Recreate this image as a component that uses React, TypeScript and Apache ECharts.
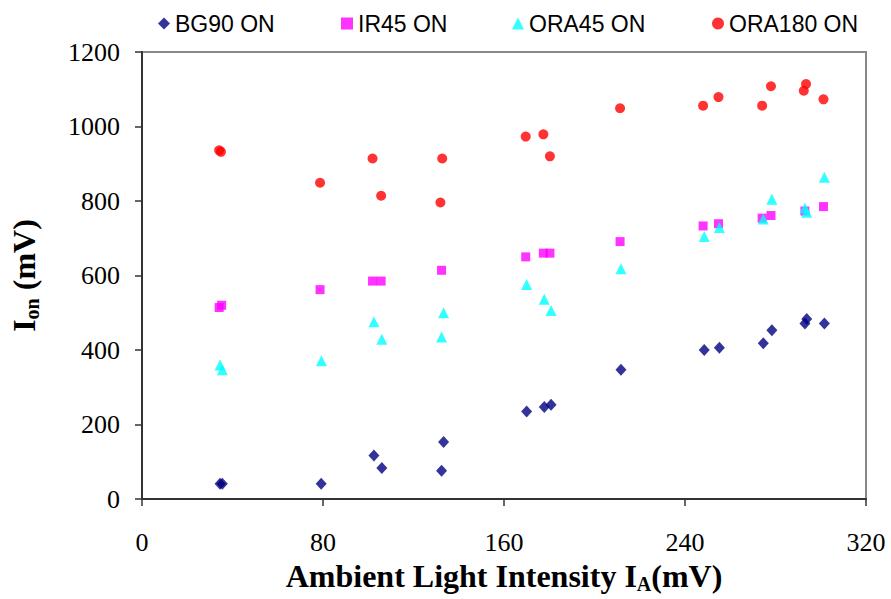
import React, { useEffect, useRef } from "react";
import * as echarts from "echarts";

const seriesNames = ["BG90 ON", "IR45 ON", "ORA45 ON", "ORA180 ON"];
const seriesColors = ["#000080", "#FF00FF", "#00FFFF", "#FF0000"];
const seriesSymbols = ["diamond", "rect", "triangle", "circle"];
const xTicks = [0, 80, 160, 240, 320];
const yTicks = [0, 200, 400, 600, 800, 1000, 1200];

const bg90X = [34.5, 35.5, 79.2, 102.5, 106, 132.4, 133.3, 170, 177.8, 180.8, 211.7, 248.5, 255.2, 274.6, 278.4, 293, 293.8, 301.6];
const bg90Y = [41, 41, 41, 117, 83, 76, 153, 235, 247, 253, 347, 400, 406, 418, 453, 471, 483, 471];

const ir45X = [34.1, 35.2, 78.7, 101.9, 105.7, 132.4, 169.6, 177.4, 180.3, 211.3, 248, 254.8, 274.1, 278, 293, 301.2];
const ir45Y = [514, 520, 562, 585, 585, 614, 650, 660, 660, 691, 733, 739, 754, 761, 773, 785];

const ora45X = [34.5, 35.5, 79.3, 102.5, 106, 132.4, 133.3, 170, 177.8, 180.8, 211.7, 248.5, 255.2, 274.6, 278.4, 293, 293.8, 301.6];
const ora45Y = [360, 347, 371, 476, 429, 435, 500, 576, 536, 506, 618, 705, 729, 752, 805, 781, 770, 864];

const ora180X = [34.1, 34.9, 78.7, 101.9, 105.7, 131.9, 132.7, 169.6, 177.4, 180.3, 211.3, 248, 254.8, 274.1, 278, 292.5, 293.5, 301.2];
const ora180Y = [936, 932, 849, 914, 814, 796, 914, 973, 979, 920, 1049, 1056, 1079, 1056, 1108, 1096, 1114, 1073];

const zip = (xs: number[], ys: number[]) => xs.map((x, i) => [x, ys[i]]);

export default function App() {
  const ref = useRef<HTMLDivElement>(null);
  useEffect(() => {
    if (!ref.current) return;
    const chart = echarts.init(ref.current, null, { renderer: "svg" });
    const serif = "'Liberation Serif', 'Times New Roman', serif";
    const sans = "'Liberation Sans', Arial, sans-serif";
    const titleRich = {
      b: { fontFamily: serif, fontSize: 32, fontWeight: "bold", color: "#000", lineHeight: 36 },
      s: { fontFamily: serif, fontSize: 20, fontWeight: "bold", color: "#000", lineHeight: 19, verticalAlign: "bottom" },
    };
    const legendLefts = [153, 336, 507, 707];
    chart.setOption({
      animation: false,
      backgroundColor: "#ffffff",
      legend: seriesNames.map((name, i) => ({
        top: 7,
        left: legendLefts[i],
        itemWidth: 12,
        itemHeight: 12,
        itemGap: 10,
        textStyle: { fontFamily: sans, fontSize: 23, color: "#000" },
        data: [{ name, icon: seriesSymbols[i], itemStyle: { color: seriesColors[i] } }],
      })),
      grid: {
        left: 140,
        right: 25,
        top: 52,
        bottom: 98,
        show: true,
        borderColor: "#888888",
        borderWidth: 2,
      },
      xAxis: {
        type: "value",
        min: 0,
        max: 320,
        interval: 80,
        splitLine: { show: false },
        axisLine: { show: true, lineStyle: { color: "#333", width: 2 } },
        axisTick: { show: true, length: 7, lineStyle: { color: "#333", width: 1.5 } },
        axisLabel: {
          margin: 30,
          fontFamily: serif,
          fontSize: 26,
          color: "#000",
          formatter: (v: number) => (xTicks.includes(v) ? String(v) : ""),
        },
        name: "{b|Ambient Light Intensity I}{s|A}{b|(mV)}",
        nameLocation: "middle",
        nameGap: 59,
        nameTextStyle: { rich: titleRich },
      },
      yAxis: {
        type: "value",
        min: 0,
        max: 1200,
        interval: 200,
        splitLine: { show: false },
        axisLine: { show: true, lineStyle: { color: "#333", width: 2 } },
        axisTick: { show: true, length: 7, lineStyle: { color: "#333", width: 1.5 } },
        axisLabel: {
          margin: 22,
          fontFamily: serif,
          fontSize: 26,
          color: "#000",
          formatter: (v: number) => (yTicks.includes(v) ? String(v) : ""),
        },
        name: "{b|I}{s|on}{b| (mV)}",
        nameLocation: "middle",
        nameGap: 100,
        nameRotate: 90,
        nameTextStyle: { rich: titleRich },
      },
      series: [
        { name: seriesNames[0], type: "scatter", symbol: seriesSymbols[0], symbolSize: [11, 12], itemStyle: { color: seriesColors[0] }, data: zip(bg90X, bg90Y) },
        { name: seriesNames[1], type: "scatter", symbol: seriesSymbols[1], symbolSize: 9, itemStyle: { color: seriesColors[1] }, data: zip(ir45X, ir45Y) },
        { name: seriesNames[2], type: "scatter", symbol: seriesSymbols[2], symbolSize: [11, 11], itemStyle: { color: seriesColors[2] }, data: zip(ora45X, ora45Y) },
        { name: seriesNames[3], type: "scatter", symbol: seriesSymbols[3], symbolSize: 10, itemStyle: { color: seriesColors[3] }, data: zip(ora180X, ora180Y) },
      ],
    });
    return () => chart.dispose();
  }, []);
  return <div ref={ref} style={{ width: 891, height: 599, position: "absolute", left: 0, top: 0 }} />;
}
